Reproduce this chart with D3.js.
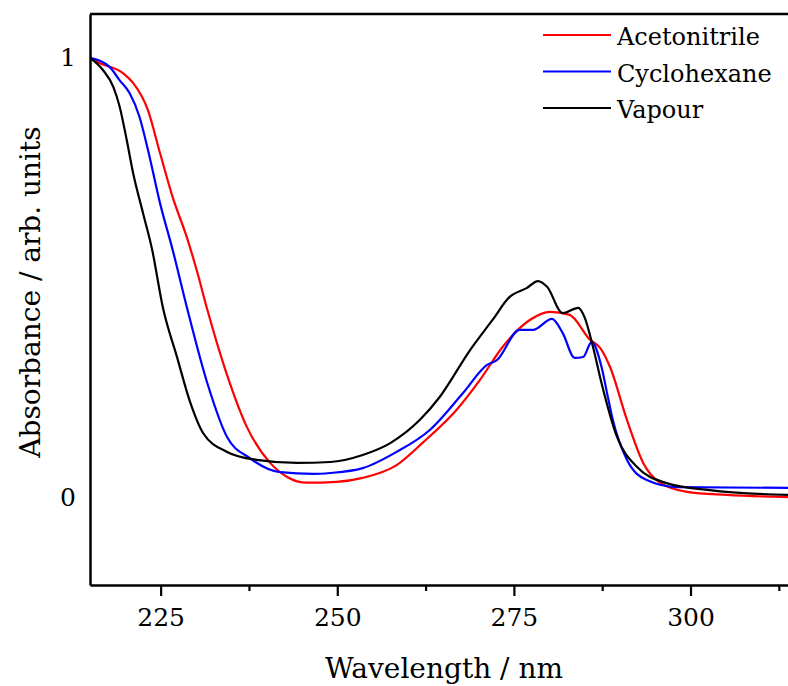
<!DOCTYPE html>
<html>
<head>
<meta charset="utf-8">
<script src="https://cdn.jsdelivr.net/npm/d3@7"></script>
<style>
  body { margin: 0; background: #fff; }
</style>
</head>
<body>
<svg id="chart" width="788" height="686"></svg>
<script>
// values (wavelength in nm, absorbance normalised)
const acnX = [215, 216.4, 219.7, 221.1, 223.2, 224.9, 226.7, 228.7, 230.1, 231.5, 234.3, 237.2, 240.5, 242.9, 245.7, 249.9, 253.6, 258.4, 262.1, 266.9, 270.2, 273.4, 277.3, 280.1, 282.9, 285.8, 287.2, 288.6, 291.0, 293.3, 295.7, 299.5, 305.1, 313.8];
const acnY = [1.0, 0.988, 0.965, 0.943, 0.881, 0.784, 0.683, 0.592, 0.517, 0.433, 0.283, 0.160, 0.078, 0.046, 0.033, 0.035, 0.044, 0.073, 0.124, 0.199, 0.267, 0.342, 0.404, 0.422, 0.415, 0.358, 0.340, 0.297, 0.176, 0.078, 0.033, 0.012, 0.005, 0.0];

const cyhX = [215, 217.8, 219.2, 220.6, 222.0, 223.2, 224.9, 226.7, 228.7, 231.6, 234.4, 237.6, 241.9, 246.6, 249.0, 253.6, 258.4, 263.1, 267.8, 271.2, 272.6, 275.8, 277.7, 280.4, 281.9, 283.6, 284.8, 286.0, 287.4, 288.3, 289.0, 291.0, 293.8, 298.1, 313.8];
const cyhY = [1.0, 0.979, 0.949, 0.920, 0.866, 0.791, 0.670, 0.563, 0.433, 0.260, 0.137, 0.089, 0.057, 0.053, 0.055, 0.066, 0.103, 0.153, 0.237, 0.301, 0.312, 0.381, 0.381, 0.406, 0.374, 0.317, 0.319, 0.353, 0.297, 0.228, 0.176, 0.085, 0.039, 0.023, 0.021];

const vapX = [215, 216.8, 218.3, 219.2, 220.2, 221.1, 222.5, 223.8, 225.3, 227.3, 229.2, 231.0, 234.4, 238.6, 244.3, 249.0, 253.6, 257.5, 261.7, 264.5, 268.8, 272.0, 274.4, 276.8, 278.4, 279.7, 281.9, 284.1, 285.0, 286.2, 287.4, 289.6, 292.4, 296.6, 302.7, 313.8];
const vapY = [1.0, 0.973, 0.934, 0.889, 0.813, 0.738, 0.647, 0.563, 0.433, 0.320, 0.215, 0.146, 0.103, 0.085, 0.078, 0.080, 0.096, 0.123, 0.176, 0.228, 0.335, 0.404, 0.456, 0.476, 0.492, 0.479, 0.419, 0.431, 0.410, 0.342, 0.260, 0.137, 0.069, 0.032, 0.016, 0.005];

const seriesNames = ["Acetonitrile", "Cyclohexane", "Vapour"];
const seriesColors = ["#ff0000", "#0000ff", "#000000"];
const xMajorTicks = [225, 250, 275, 300];
const xMinorTicks = [237.5, 262.5, 287.5, 312.5];
const yTicks = [0, 1];

const FONT = "'DejaVu Serif', serif";

const series = [
  { name: seriesNames[0], color: seriesColors[0], pts: acnX.map((x, i) => [x, acnY[i]]) },
  { name: seriesNames[1], color: seriesColors[1], pts: cyhX.map((x, i) => [x, cyhY[i]]) },
  { name: seriesNames[2], color: seriesColors[2], pts: vapX.map((x, i) => [x, vapY[i]]) }
];

const svg = d3.select("#chart");
const plotL = 90, plotR = 788, plotT = 14, plotB = 585;

const x = d3.scaleLinear().domain([215, 313.8]).range([plotL, plotR]);
const y = d3.scaleLinear().domain([-0.2, 1.1]).range([plotB, plotT]);

svg.append("clipPath").attr("id", "clip")
  .append("rect").attr("x", plotL).attr("y", plotT).attr("width", plotR - plotL).attr("height", plotB - plotT);

const line = d3.line()
  .x(d => x(d[0]))
  .y(d => y(d[1]))
  .curve(d3.curveMonotoneX);

svg.append("g").attr("clip-path", "url(#clip)")
  .selectAll("path")
  .data(series)
  .join("path")
  .attr("d", d => line(d.pts))
  .attr("fill", "none")
  .attr("stroke", d => d.color)
  .attr("stroke-width", 2.2);

// top frame line
svg.append("line")
  .attr("x1", plotL).attr("x2", plotR)
  .attr("y1", plotT).attr("y2", plotT)
  .attr("stroke", "#000").attr("stroke-width", 2.5);

// x axis
svg.append("g")
  .attr("transform", `translate(0,${plotB})`)
  .call(d3.axisBottom(x).tickValues(xMajorTicks).tickSize(11).tickSizeOuter(0).tickPadding(12));
svg.append("g")
  .attr("transform", `translate(0,${plotB})`)
  .call(d3.axisBottom(x).tickValues(xMinorTicks).tickSize(6).tickSizeOuter(0).tickFormat(""))
  .call(g => g.select(".domain").remove());

// y axis
svg.append("g")
  .attr("transform", `translate(${plotL},0)`)
  .call(d3.axisLeft(y).tickValues(yTicks).tickSize(0).tickSizeOuter(0).tickPadding(14).tickFormat(d3.format("d")));

svg.selectAll(".domain").attr("stroke-width", 2.5);
svg.selectAll(".tick line").attr("stroke-width", 2.2);
svg.selectAll(".tick text")
  .attr("font-family", FONT)
  .attr("font-size", 25)
  .attr("fill", "#000");

// axis titles
svg.append("text")
  .attr("x", 444).attr("y", 678)
  .attr("text-anchor", "middle")
  .attr("font-family", FONT)
  .attr("font-size", 28)
  .text("Wavelength / nm");

svg.append("text")
  .attr("transform", "translate(40,292) rotate(-90)")
  .attr("text-anchor", "middle")
  .attr("font-family", FONT)
  .attr("font-size", 28)
  .text("Absorbance / arb. units");

// legend
const legend = svg.append("g").attr("transform", "translate(543,35)");
const item = legend.selectAll("g")
  .data(series)
  .join("g")
  .attr("transform", (d, i) => `translate(0,${i * 36.5})`);
item.append("line")
  .attr("x1", 0).attr("x2", 68)
  .attr("stroke", d => d.color)
  .attr("stroke-width", 2.2);
item.append("text")
  .attr("x", 74).attr("y", 10)
  .attr("font-family", FONT)
  .attr("font-size", 24)
  .text(d => d.name);
</script>
</body>
</html>
